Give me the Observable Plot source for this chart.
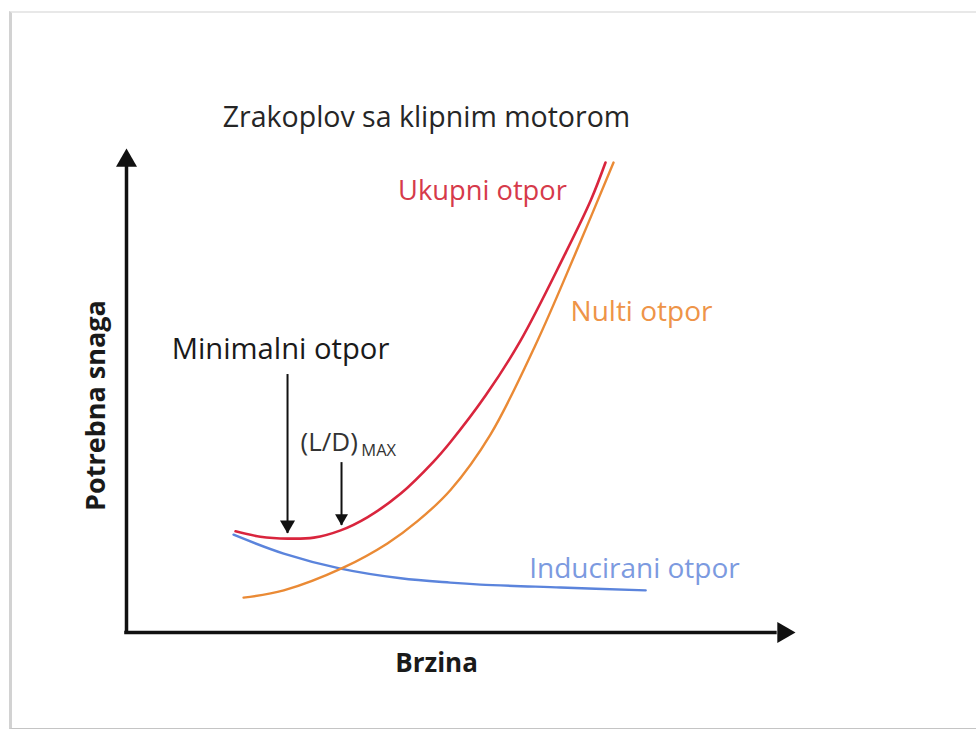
<!DOCTYPE html>
<html><head><meta charset="utf-8">
<script src="https://cdn.jsdelivr.net/npm/d3@7"></script>
<script src="https://cdn.jsdelivr.net/npm/@observablehq/plot@0.6"></script>
<style>
html,body{margin:0;padding:0;background:#fff;}
#wrap{position:relative;width:976px;height:729px;overflow:hidden;}
#card{position:absolute;left:9px;top:11px;width:990px;height:715px;border-left:3px solid #d2d2d2;border-top:2px solid #e8e8e8;border-bottom:1px solid #c4c4c4;background:#fff;}
#chart{position:absolute;left:0;top:0;}
</style></head>
<body><div id="wrap"><div id="card"></div><div id="chart"></div></div>
<script>
// Data (arbitrary units: speed 0-100, required power 0-100)
const ukupniX = [16.3, 20.0, 24.1, 28.0, 32.0, 36.0, 41.0, 45.9, 48.4, 53.7, 58.9, 65.3, 69.4, 71.6];
const ukupniY = [20.9, 19.8, 19.4, 19.6, 21.1, 23.8, 28.7, 35.3, 39.3, 49.0, 60.3, 77.5, 89.3, 97.1];
const nultiX = [17.5, 23.5, 32.4, 39.0, 43.5, 48.4, 54.4, 61.1, 67.1, 72.8];
const nultiY = [7.2, 8.7, 13.4, 18.4, 23.0, 29.4, 40.9, 59.3, 78.3, 97.1];
const induciraniX = [16.0, 23.5, 32.0, 41.0, 48.4, 52.9, 64.9, 77.6];
const induciraniY = [20.2, 16.3, 13.2, 11.2, 10.3, 9.9, 9.3, 8.7];
const seriesNames = ["Ukupni otpor", "Nulti otpor", "Inducirani otpor"];
const title = "Zrakoplov sa klipnim motorom";
const xLabel = "Brzina";
const yLabel = "Potrebna snaga";
const markerNames = ["Minimalni otpor", "(L/D)", "MAX"];
// marker arrows: speed, start power, tip power
const arrowX = [24.07, 32.14];
const arrowTop = [53.3, 35.1];
const arrowTip = [20.45, 22.1];

const F = "'Open Sans', sans-serif";
const toRows = (xs, ys) => xs.map((x, i) => ({x, y: ys[i]}));
const RED = "#d9253d", ORANGE = "#ea8a35", BLUE = "#5b84dc";

const chart = Plot.plot({
  width: 976, height: 729,
  marginLeft: 126, marginRight: 181, marginTop: 148, marginBottom: 97,
  x: {domain: [0, 100], axis: null},
  y: {domain: [0, 100], axis: null},
  style: {background: "transparent", fontFamily: F, overflow: "visible"},
  marks: [
    // axes
    Plot.ruleX([0], {y1: 0, y2: 97, stroke: "#111", strokeWidth: 3.5, strokeLinecap: "square"}),
    Plot.ruleY([0], {x1: 0, x2: 97, stroke: "#111", strokeWidth: 3.5, strokeLinecap: "square"}),
    Plot.dot([{x: 0, y: 100}], {x: "x", y: "y", symbol: "triangle", r: 7.8, fill: "#111", dy: 12.1}),
    Plot.dot([{x: 100, y: 0}], {x: "x", y: "y", symbol: "triangle", r: 7.8, fill: "#111", rotate: 90, dx: -12.1}),
    // curves
    Plot.line(toRows(induciraniX, induciraniY), {x: "x", y: "y", stroke: BLUE, strokeWidth: 2.4, curve: "catmull-rom"}),
    Plot.line(toRows(nultiX, nultiY), {x: "x", y: "y", stroke: ORANGE, strokeWidth: 2.4, curve: "catmull-rom"}),
    Plot.line(toRows(ukupniX, ukupniY), {x: "x", y: "y", stroke: RED, strokeWidth: 2.6, curve: "catmull-rom"}),
    // marker arrows
    Plot.ruleX([0, 1], {x: (i) => arrowX[i], y1: (i) => arrowTop[i], y2: (i) => arrowTip[i], stroke: "#111", strokeWidth: 2}),
    Plot.dot([0], {x: () => arrowX[0], y: () => arrowTip[0], symbol: "triangle", r: 5.6, fill: "#111", rotate: 180, dy: -8.7}),
    Plot.dot([1], {x: () => arrowX[1], y: () => arrowTip[1], symbol: "triangle", r: 4.8, fill: "#111", rotate: 180, dy: -7.5}),
    // texts
    Plot.text([title], {x: 44.84, y: 104.5, text: (d) => d, fontSize: 28.5, fill: "#262626", lineAnchor: "bottom"}),
    Plot.text([seriesNames[0]], {x: 53.21, y: 89.46, text: (d) => d, fontSize: 27.3, fill: "#d63a4a", lineAnchor: "bottom"}),
    Plot.text([seriesNames[1]], {x: 76.98, y: 64.46, text: (d) => d, fontSize: 28, fill: "#ee9448", lineAnchor: "bottom"}),
    Plot.text([seriesNames[2]], {x: 75.93, y: 11.36, text: (d) => d, fontSize: 28, fill: "#7c9ae0", lineAnchor: "bottom"}),
    Plot.text([markerNames[0]], {x: 23.02, y: 56.61, text: (d) => d, fontSize: 29.2, fill: "#1a1a1a", lineAnchor: "bottom"}),
    Plot.text([markerNames[1]], {x: 26.01, y: 37.6, text: (d) => d, fontSize: 26, fill: "#333", lineAnchor: "bottom", textAnchor: "start"}),
    Plot.text([markerNames[2]], {x: 35.1, y: 36.57, text: (d) => d, fontSize: 16.5, fill: "#333", lineAnchor: "bottom", textAnchor: "start"}),
    Plot.text([xLabel], {x: 46.34, y: -8.26, text: (d) => d, fontSize: 26, fontWeight: "bold", fill: "#1a1a1a", lineAnchor: "bottom"}),
    Plot.text([yLabel], {x: -4.48, y: 46.9, text: (d) => d, fontSize: 27, fontWeight: "bold", fill: "#1a1a1a", rotate: -90})
  ]
});
document.getElementById("chart").appendChild(chart);
</script>
</body></html>
